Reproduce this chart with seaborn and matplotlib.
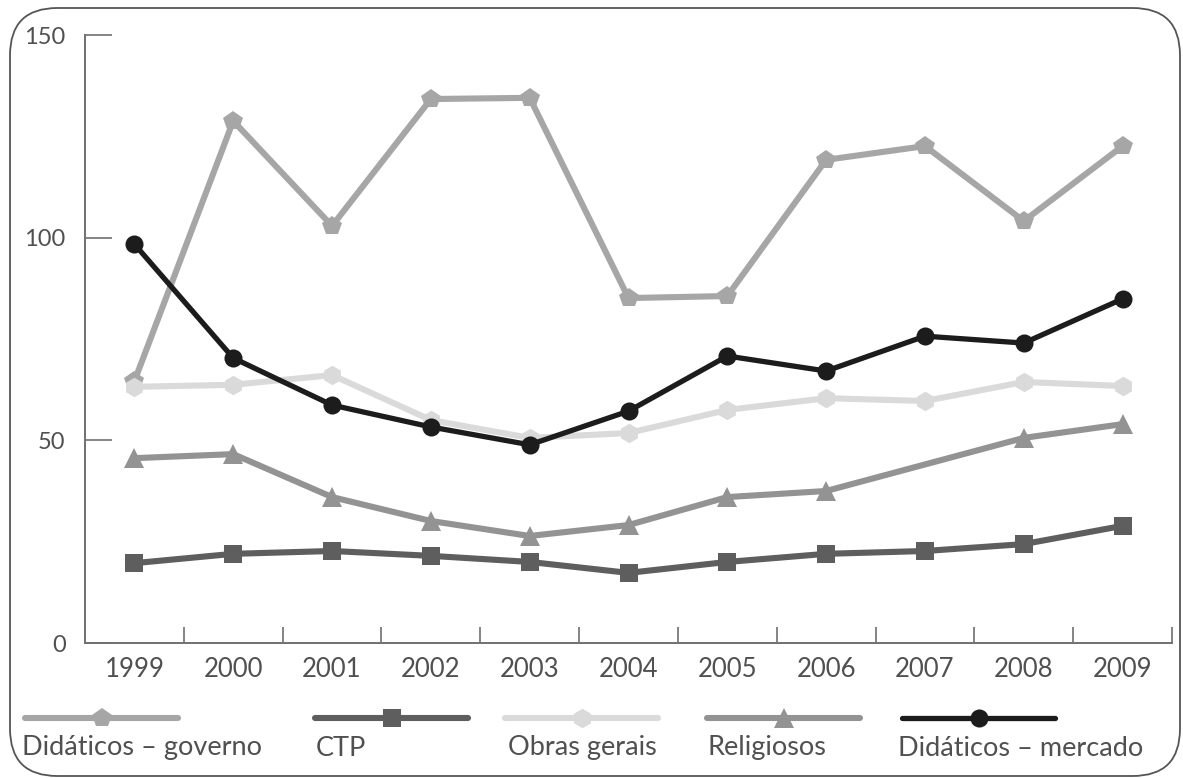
import numpy as np
import pandas as pd
import seaborn as sns
import matplotlib
matplotlib.use("Agg")
import matplotlib.pyplot as plt
from matplotlib.lines import Line2D
from matplotlib.patches import FancyBboxPatch

sns.set_theme(style="white")
plt.rcParams["font.family"] = ["Lato", "DejaVu Sans"]

years = ["1999", "2000", "2001", "2002", "2003", "2004", "2005", "2006", "2007", "2008", "2009"]

didaticos_governo = [64.6, 128.8, 102.9, 134.2, 134.5, 85.1, 85.6, 119.2, 122.6, 104.1, 122.6]
ctp = [19.7, 22.0, 22.7, 21.5, 20.0, 17.3, 20.0, 22.0, 22.7, 24.4, 28.9]
obras_gerais = [63.2, 63.7, 66.1, 55.0, 50.6, 51.8, 57.5, 60.4, 59.7, 64.4, 63.4]
religiosos = [45.6, 46.6, 36.0, 30.1, 26.4, 29.1, 36.0, 37.5, np.nan, 50.6, 54.0]
didaticos_mercado = [98.4, 70.3, 58.7, 53.3, 48.9, 57.2, 70.8, 67.1, 75.7, 74.0, 84.9]

series_names = ["Didáticos – governo", "CTP", "Obras gerais", "Religiosos", "Didáticos – mercado"]
series_values = [didaticos_governo, ctp, obras_gerais, religiosos, didaticos_mercado]
series_colors = ["#a6a6a6", "#5e5e5e", "#dadada", "#939393", "#1c1c1c"]
series_markers = ["p", "s", "h", "^", "o"]
series_msize = [15, 13, 14, 14, 13]
series_lw = [4.4, 4.4, 4.4, 4.4, 3.8]
draw_order = [2, 3, 1, 0, 4]

text_color = "#505050"
axis_color = "#707070"

fig = plt.figure(figsize=(11.83, 7.78), dpi=100)
ax = fig.add_axes([85 / 1183, 1 - 643 / 778, (1172 - 85) / 1183, (643 - 35) / 778])

x = np.arange(len(years))
for i in draw_order:
    df = pd.DataFrame({"x": x, "y": series_values[i]}).dropna()
    sns.lineplot(data=df, x="x", y="y", ax=ax, color=series_colors[i],
                 linewidth=series_lw[i], marker=series_markers[i],
                 markersize=series_msize[i], markeredgewidth=0,
                 solid_capstyle="round", solid_joinstyle="round", zorder=3 + i)

ax.set_xlim(-0.5, 10.5)
ax.set_ylim(0, 150)
ax.set_xlabel("")
ax.set_ylabel("")

# category boundaries as ticks, year labels centred between them
ax.set_xticks(np.arange(0.5, 11.0, 1.0))
ax.set_xticklabels([])
ax.set_xticks(x, minor=True)
ax.set_xticklabels(years, minor=True)
ax.tick_params(axis="x", which="major", direction="in", length=11.5, width=1.2,
               color=axis_color, bottom=True)
ax.tick_params(axis="x", which="minor", length=0, pad=10, labelsize=18.5,
               labelcolor=text_color, bottom=True)

ax.set_yticks([0, 50, 100, 150])
ax.set_yticklabels(["0", "50", "100", "150"])
ax.tick_params(axis="y", direction="in", length=19.5, width=1.2, color=axis_color,
               pad=14, labelsize=17, labelcolor=text_color, left=True)

for side in ["top", "right"]:
    ax.spines[side].set_visible(False)
for side in ["left", "bottom"]:
    ax.spines[side].set_color(axis_color)
    ax.spines[side].set_linewidth(1.4)
ax.grid(False)
ax.patch.set_alpha(0)

# legend: a short line with its marker, the label underneath
leg_x0 = [25, 315, 505, 707, 902]
leg_len = 153
leg_y = 1 - 718 / 778
lab_x = [22, 316, 508, 708, 898]
lab_y = 1 - 748 / 778
for i in range(5):
    xa = leg_x0[i] / 1183
    xb = (leg_x0[i] + leg_len) / 1183
    fig.add_artist(Line2D([xa, xb], [leg_y, leg_y], transform=fig.transFigure,
                          color=series_colors[i], linewidth=series_lw[i],
                          solid_capstyle="round"))
    fig.add_artist(Line2D([(xa + xb) / 2], [leg_y], transform=fig.transFigure,
                          color=series_colors[i], marker=series_markers[i],
                          markersize=series_msize[i], markeredgewidth=0,
                          linestyle="none"))
    fig.text(lab_x[i] / 1183, lab_y, series_names[i], fontsize=19.5,
             color=text_color, ha="left", va="center")

# rounded frame around the whole graphic
frame = FancyBboxPatch((10 / 1183, 2 / 778), 1170 / 1183, 768 / 778,
                       boxstyle="round,pad=0,rounding_size=0.04",
                       transform=fig.transFigure, facecolor="none",
                       edgecolor="#555555", linewidth=1.3,
                       mutation_aspect=1183 / 778)
fig.add_artist(frame)

fig.savefig("out.png", dpi=100)
